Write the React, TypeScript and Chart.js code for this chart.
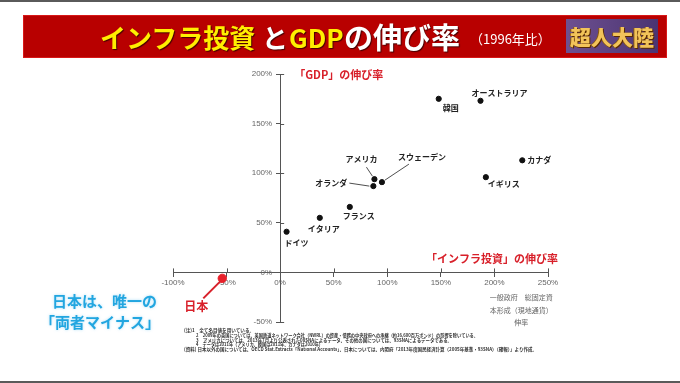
import React, { useEffect, useRef } from "react";
import { Chart, registerables } from "chart.js";
Chart.register(...registerables);

// ---- data ----
const countries = ["韓国", "オーストラリア", "カナダ", "イギリス", "アメリカ", "スウェーデン", "オランダ", "フランス", "イタリア", "ドイツ"];
const infraGrowth = [148, 187, 226, 192, 88, 95, 87, 65, 37, 6];
const gdpGrowth = [175, 173, 113, 96, 94, 91, 87, 66, 55, 41];
const japanName = ["日本"];
const japanInfra = [-54];
const japanGdp = [-6];
const xTicks = [-100, -50, 0, 50, 100, 150, 200, 250];
const yTicks = [-50, 0, 50, 100, 150, 200];

const footnotes = [
  "(注)1　全て名目値を用いている。",
  "2　2009年の英国については、英国鉄道ネットワーク会社（NWRL）の資産・債務の中央政府への承継（約16,600百万ポンド）の影響を除いている。",
  "3　アメリカについては、2013年7月より公表された08SNAによるデータ、その他の国については、93SNAによるデータである。",
  "4　データは2011年（アメリカ、韓国は2011年、カナダは2010年）",
  "(資料) 日本以外の国については、OECD Stat.Extracts「National Accounts」、日本については、内閣府「2013年度国民経済計算（2005年基準・93SNA）（確報）」より作成。",
];

// ---- label placement (pixel offsets from each point) ----
type Place = { dx: number; dy: number; align: CanvasTextAlign; lead?: [number, number, number, number] };
const placements: Place[] = [
  { dx: 12, dy: 9, align: "center" },
  { dx: 19, dy: -8, align: "center" },
  { dx: 5, dy: 0, align: "left" },
  { dx: 2, dy: 7, align: "left" },
  { dx: -13, dy: -20, align: "center", lead: [-8, -12, -2, -3] },
  { dx: 40, dy: -25, align: "center", lead: [27, -18, 3, -2] },
  { dx: -42, dy: -3, align: "center", lead: [-24, -3, -4, 0] },
  { dx: 9, dy: 9, align: "center" },
  { dx: 4, dy: 11, align: "center" },
  { dx: 10, dy: 11, align: "center" },
];
const japanPlace: Place = { dx: -26, dy: 28, align: "center", lead: [-19, 20, -2, 3] };

const AXIS = "#555555";
const RED = "#d8202a";
const JP = '"Noto Sans CJK JP", "Noto Sans", sans-serif';

const annotate = {
  id: "annotate",
  afterDraw(chart: any) {
    const ctx: CanvasRenderingContext2D = chart.ctx;
    const xs = chart.scales.x;
    const ys = chart.scales.y;
    const x0 = xs.getPixelForValue(0);
    const y0 = ys.getPixelForValue(0);
    ctx.save();
    // inner halves of the crossing tick marks
    ctx.strokeStyle = AXIS;
    ctx.lineWidth = 1;
    ctx.beginPath();
    xTicks.forEach((v) => {
      const px = Math.round(xs.getPixelForValue(v)) + 0.5;
      ctx.moveTo(px, y0 - 4);
      ctx.lineTo(px, y0);
    });
    yTicks.forEach((v) => {
      const py = Math.round(ys.getPixelForValue(v)) + 0.5;
      ctx.moveTo(x0, py);
      ctx.lineTo(x0 + 4, py);
    });
    ctx.stroke();

    // country labels
    ctx.textBaseline = "middle";
    const draw = (pt: any, text: string, p: Place, color: string, font: string, lw: number) => {
      if (p.lead) {
        ctx.strokeStyle = color;
        ctx.lineWidth = lw;
        ctx.beginPath();
        ctx.moveTo(pt.x + p.lead[0], pt.y + p.lead[1]);
        ctx.lineTo(pt.x + p.lead[2], pt.y + p.lead[3]);
        ctx.stroke();
      }
      ctx.fillStyle = color;
      ctx.font = font;
      ctx.textAlign = p.align;
      ctx.fillText(text, pt.x + p.dx, pt.y + p.dy);
    };
    chart.getDatasetMeta(0).data.forEach((pt: any, i: number) => {
      draw(pt, countries[i], placements[i], "#222", `bold 8px ${JP}`, 0.8);
    });
    chart.getDatasetMeta(1).data.forEach((pt: any, i: number) => {
      draw(pt, japanName[i], japanPlace, RED, `bold 12px ${JP}`, 2);
    });

    // axis titles
    ctx.fillStyle = RED;
    ctx.font = `bold 11px ${JP}`;
    ctx.textAlign = "left";
    ctx.fillText("「GDP」の伸び率", x0 + 14, ys.getPixelForValue(200) + 1);
    ctx.textAlign = "right";
    ctx.fillText("「インフラ投資」の伸び率", xs.getPixelForValue(250) + 10, y0 - 14);

    // x-axis description
    ctx.fillStyle = "#666";
    ctx.font = `7px ${JP}`;
    ctx.textAlign = "center";
    const cx = xs.getPixelForValue(225);
    ctx.fillText("一般政府　総固定資", cx, y0 + 25);
    ctx.fillText("本形成（現地通貨）", cx, y0 + 38);
    ctx.fillText("伸率", cx, y0 + 50);

    // blue annotation
    ctx.fillStyle = "#22a6e0";
    ctx.font = `bold 15px ${JP}`;
    ctx.textAlign = "left";
    ctx.shadowColor = "rgba(120,200,240,0.6)";
    ctx.shadowBlur = 3;
    ctx.fillText("日本は、唯一の", 52, 301);
    ctx.fillText("「両者マイナス」", 40, 322);
    ctx.shadowBlur = 0;

    // footnotes
    ctx.fillStyle = "#333";
    ctx.font = `bold 5px ${JP}`;
    ctx.textAlign = "left";
    const fx = [184, 196, 196, 196, 184];
    const fy = [330, 335, 340, 344.5, 349.5];
    const fw = [70, 282, 256, 127, 353];
    footnotes.forEach((t, i) => ctx.fillText(t, fx[i], fy[i], fw[i]));
    ctx.restore();
  },
};

export default function App() {
  const ref = useRef<HTMLCanvasElement | null>(null);
  useEffect(() => {
    if (!ref.current) return;
    const chart = new Chart(ref.current, {
      type: "scatter",
      data: {
        datasets: [
          {
            label: "各国",
            data: infraGrowth.map((x, i) => ({ x, y: gdpGrowth[i] })),
            backgroundColor: "#111",
            borderColor: "#111",
            pointRadius: 2.6,
          },
          {
            label: "日本",
            data: japanInfra.map((x, i) => ({ x, y: japanGdp[i] })),
            backgroundColor: "#e8202a",
            borderColor: "#e8202a",
            pointRadius: 4.2,
          },
        ],
      },
      options: {
        responsive: false,
        animation: false,
        layout: { padding: { left: 173, right: 132, top: 74, bottom: 61 } },
        plugins: { legend: { display: false }, tooltip: { enabled: false } },
        scales: {
          x: {
            type: "linear",
            min: -100,
            max: 250,
            position: { y: 0 } as any,
            afterBuildTicks: (s: any) => {
              s.ticks = xTicks.map((v) => ({ value: v }));
            },
            afterFit: (s: any) => {
              s.height = 0;
            },
            grid: { drawOnChartArea: false, color: AXIS, tickLength: 4 },
            border: { color: AXIS, width: 1 },
            ticks: {
              autoSkip: false,
              maxRotation: 0,
              padding: 2,
              color: "#666",
              font: { family: '"Liberation Sans", sans-serif', size: 8 },
              callback: (v: any) => `${v}%`,
            },
          },
          y: {
            type: "linear",
            min: -50,
            max: 200,
            position: { x: 0 } as any,
            afterBuildTicks: (s: any) => {
              s.ticks = yTicks.map((v) => ({ value: v }));
            },
            afterFit: (s: any) => {
              s.width = 0;
            },
            grid: { drawOnChartArea: false, color: AXIS, tickLength: 4 },
            border: { color: AXIS, width: 1 },
            ticks: {
              autoSkip: false,
              padding: 3,
              color: "#666",
              font: { family: '"Liberation Sans", sans-serif', size: 8 },
              // trailing en spaces keep the right-aligned label clear of the axis
              callback: (v: any) => `${v}%\u2002\u2002`,
            },
          },
        },
      },
      plugins: [annotate],
    });
    return () => chart.destroy();
  }, []);

  return (
    <div style={{ position: "fixed", left: 0, top: 0, width: 680, height: 383, background: "#fff", overflow: "hidden" }}>
      <canvas ref={ref} width={680} height={383} style={{ position: "absolute", left: 0, top: 0, display: "block" }} />
      <div style={{ position: "absolute", left: 0, top: 0, width: 680, height: 2, background: "#5a5a5a" }} />
      <div style={{ position: "absolute", left: 0, top: 381, width: 680, height: 2, background: "#5a5a5a" }} />
      <div
        style={{
          position: "absolute",
          left: 23,
          top: 15,
          width: 642,
          height: 41,
          background: "#b80000",
          border: "1px solid #d81818",
          fontFamily: JP,
          fontWeight: 700,
          whiteSpace: "nowrap",
        }}
      >
        <span style={{ position: "absolute", left: 76, top: 0, fontSize: 26, lineHeight: "41px", color: "#ffee00", textShadow: "1px 1px 1px #400" }}>インフラ投資</span>
        <span style={{ position: "absolute", left: 238, top: 0, fontSize: 26, lineHeight: "41px", color: "#fff", textShadow: "1px 1px 1px #400" }}>と</span>
        <span style={{ position: "absolute", left: 265, top: 0, fontSize: 26, lineHeight: "41px", color: "#ffee00", textShadow: "1px 1px 1px #400" }}>GDP</span>
        <span style={{ position: "absolute", left: 320, top: 0, fontSize: 29, lineHeight: "41px", color: "#fff", textShadow: "1px 1px 1px #400" }}>の伸び率</span>
        <span style={{ position: "absolute", left: 446, top: 2, fontSize: 13, lineHeight: "41px", fontWeight: 400, color: "#fff" }}>（1996年比）</span>
        <div
          style={{
            position: "absolute",
            left: 542,
            top: 3,
            width: 92,
            height: 34,
            background: "linear-gradient(90deg, #6d5090, #4b3472)",
            color: "#f2c35a",
            fontSize: 21,
            lineHeight: "34px",
            textAlign: "center",
            fontWeight: 900,
            textShadow: "1px 1px 0 #5a2a00, -1px 0 0 #8a5a10",
          }}
        >
          超人大陸
        </div>
      </div>
    </div>
  );
}
